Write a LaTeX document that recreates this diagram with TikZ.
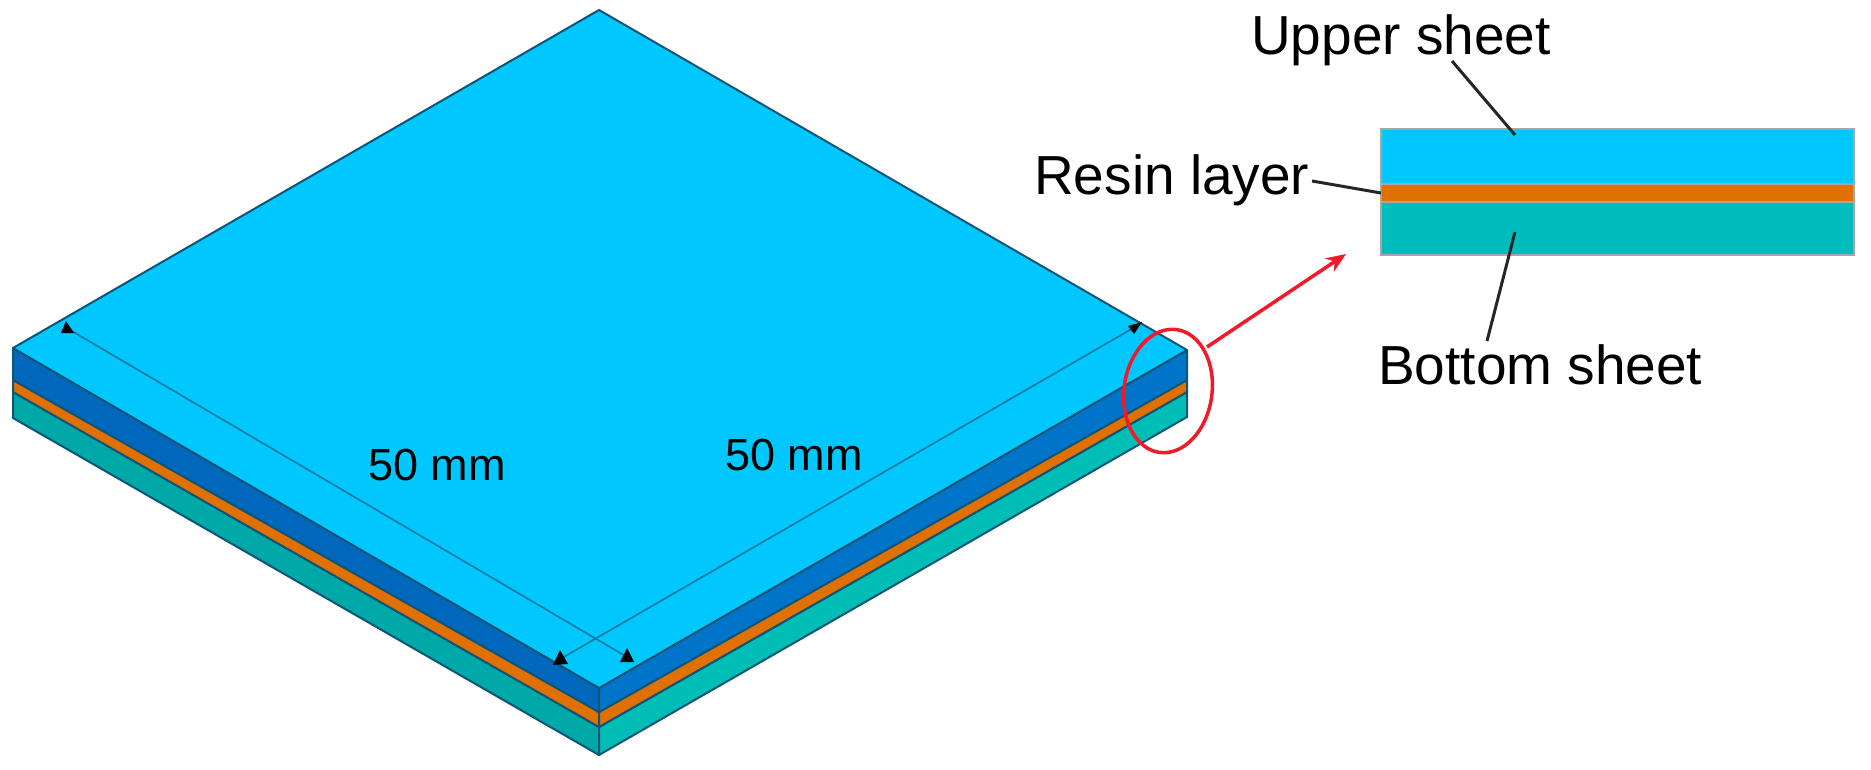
\documentclass[tikz,border=0pt]{standalone}
\usepackage{fontspec}
\setmainfont{Liberation Sans}
\usetikzlibrary{shapes.geometric,arrows.meta}
\definecolor{topc}{HTML}{00C8FF}
\definecolor{blueL}{HTML}{0068BC}
\definecolor{blueR}{HTML}{0074C8}
\definecolor{oran}{HTML}{E07000}
\definecolor{tealL}{HTML}{00A8A8}
\definecolor{tealR}{HTML}{00BDB5}
\definecolor{tealP}{HTML}{00BDBD}
\definecolor{edgec}{HTML}{0E5578}
\definecolor{dimc}{HTML}{0A7FA8}
\definecolor{redc}{HTML}{F01A28}
\tikzset{
  x=1pt,y=-1pt,
  face/.style={line width=2pt,draw=edgec,line join=round},
  bigtext/.style={anchor=base west,inner sep=0pt,font=\fontsize{55}{60}\selectfont,text=black},
  dimtext/.style={anchor=base west,inner sep=0pt,font=\fontsize{45}{50}\selectfont,text=black},
  dimline/.style={line width=1.8pt,draw=dimc},
  leader/.style={line width=3pt,draw=black!85},
  tip/.style={fill=black},
  panel/.style={draw=black!35!white,line width=2pt}
}
\begin{document}
\begin{tikzpicture}
\useasboundingbox (0,0) rectangle (1871,770);
% corners
\coordinate (T) at (599,10);
\coordinate (L) at (13,348);
\coordinate (R) at (1187,350);
\coordinate (F) at (599,688);
% side faces
\filldraw[face,fill=tealL] (13,392)--(599,727)--(599,755)--(13,418)--cycle;
\filldraw[face,fill=tealR] (599,727)--(1187,392)--(1187,417)--(599,755)--cycle;
\filldraw[face,fill=oran] (13,380)--(599,712)--(599,727)--(13,392)--cycle;
\filldraw[face,fill=oran] (599,712)--(1187,380)--(1187,392)--(599,727)--cycle;
\filldraw[face,fill=blueL] (L)--(F)--(599,712)--(13,380)--cycle;
\filldraw[face,fill=blueR] (F)--(R)--(1187,380)--(599,712)--cycle;
\filldraw[face,fill=topc] (T)--(R)--(F)--(L)--cycle;
% dimensions
\coordinate (d1) at (70,330);
\coordinate (d2) at (627,657);
\coordinate (d3) at (1135,327);
\coordinate (d4) at (562,658);
\draw[dimline] (d1)--(d2);
\draw[dimline] (d3)--(d4);
\fill[tip] (66,321)--(74,333)--(61,333)--cycle;
\fill[tip] (627,648)--(634,662)--(620,662)--cycle;
\fill[tip] (1142,322)--(1128,326)--(1134,334)--cycle;
\fill[tip] (560,650)--(568,664)--(553,665)--cycle;
\node[dimtext] (dimA) at (368,480) {50 mm};
\node[dimtext] (dimB) at (725,470) {50 mm};
% detail panel
\fill[topc] (1381,129) rectangle (1854,184);
\fill[oran] (1381,184) rectangle (1854,202);
\fill[tealP] (1381,202) rectangle (1854,255);
\draw[panel] (1381,129) rectangle (1854,255);
\draw[panel] (1381,184)--(1854,184);
\draw[panel] (1381,202)--(1854,202);
% labels
\node[bigtext] (upper) at (1251,55) {Upper sheet};
\node[bigtext] (resin) at (1034,195) {Resin layer};
\node[bigtext] (bottom) at (1378,384) {Bottom sheet};
\coordinate (u1) at (1452,61);
\coordinate (u2) at (1515,135);
\coordinate (r1) at (1312,181);
\coordinate (r2) at (1381,193);
\coordinate (b1) at (1515,232);
\coordinate (b2) at (1487,341);
\draw[leader] (u1)--(u2);
\draw[leader] (r1)--(r2);
\draw[leader] (b1)--(b2);
% callout
\node[ellipse,draw=redc,line width=3.5pt,minimum width=88pt,minimum height=124pt,inner sep=0pt,rotate=-8] (ell) at (1168,391) {};
\coordinate (a1) at (1207,347);
\coordinate (a2) at (1346,254);
\draw[redc,line width=3.5pt,-{Stealth[length=20pt,width=16pt]}] (a1)--(a2);
\end{tikzpicture}
\end{document}
